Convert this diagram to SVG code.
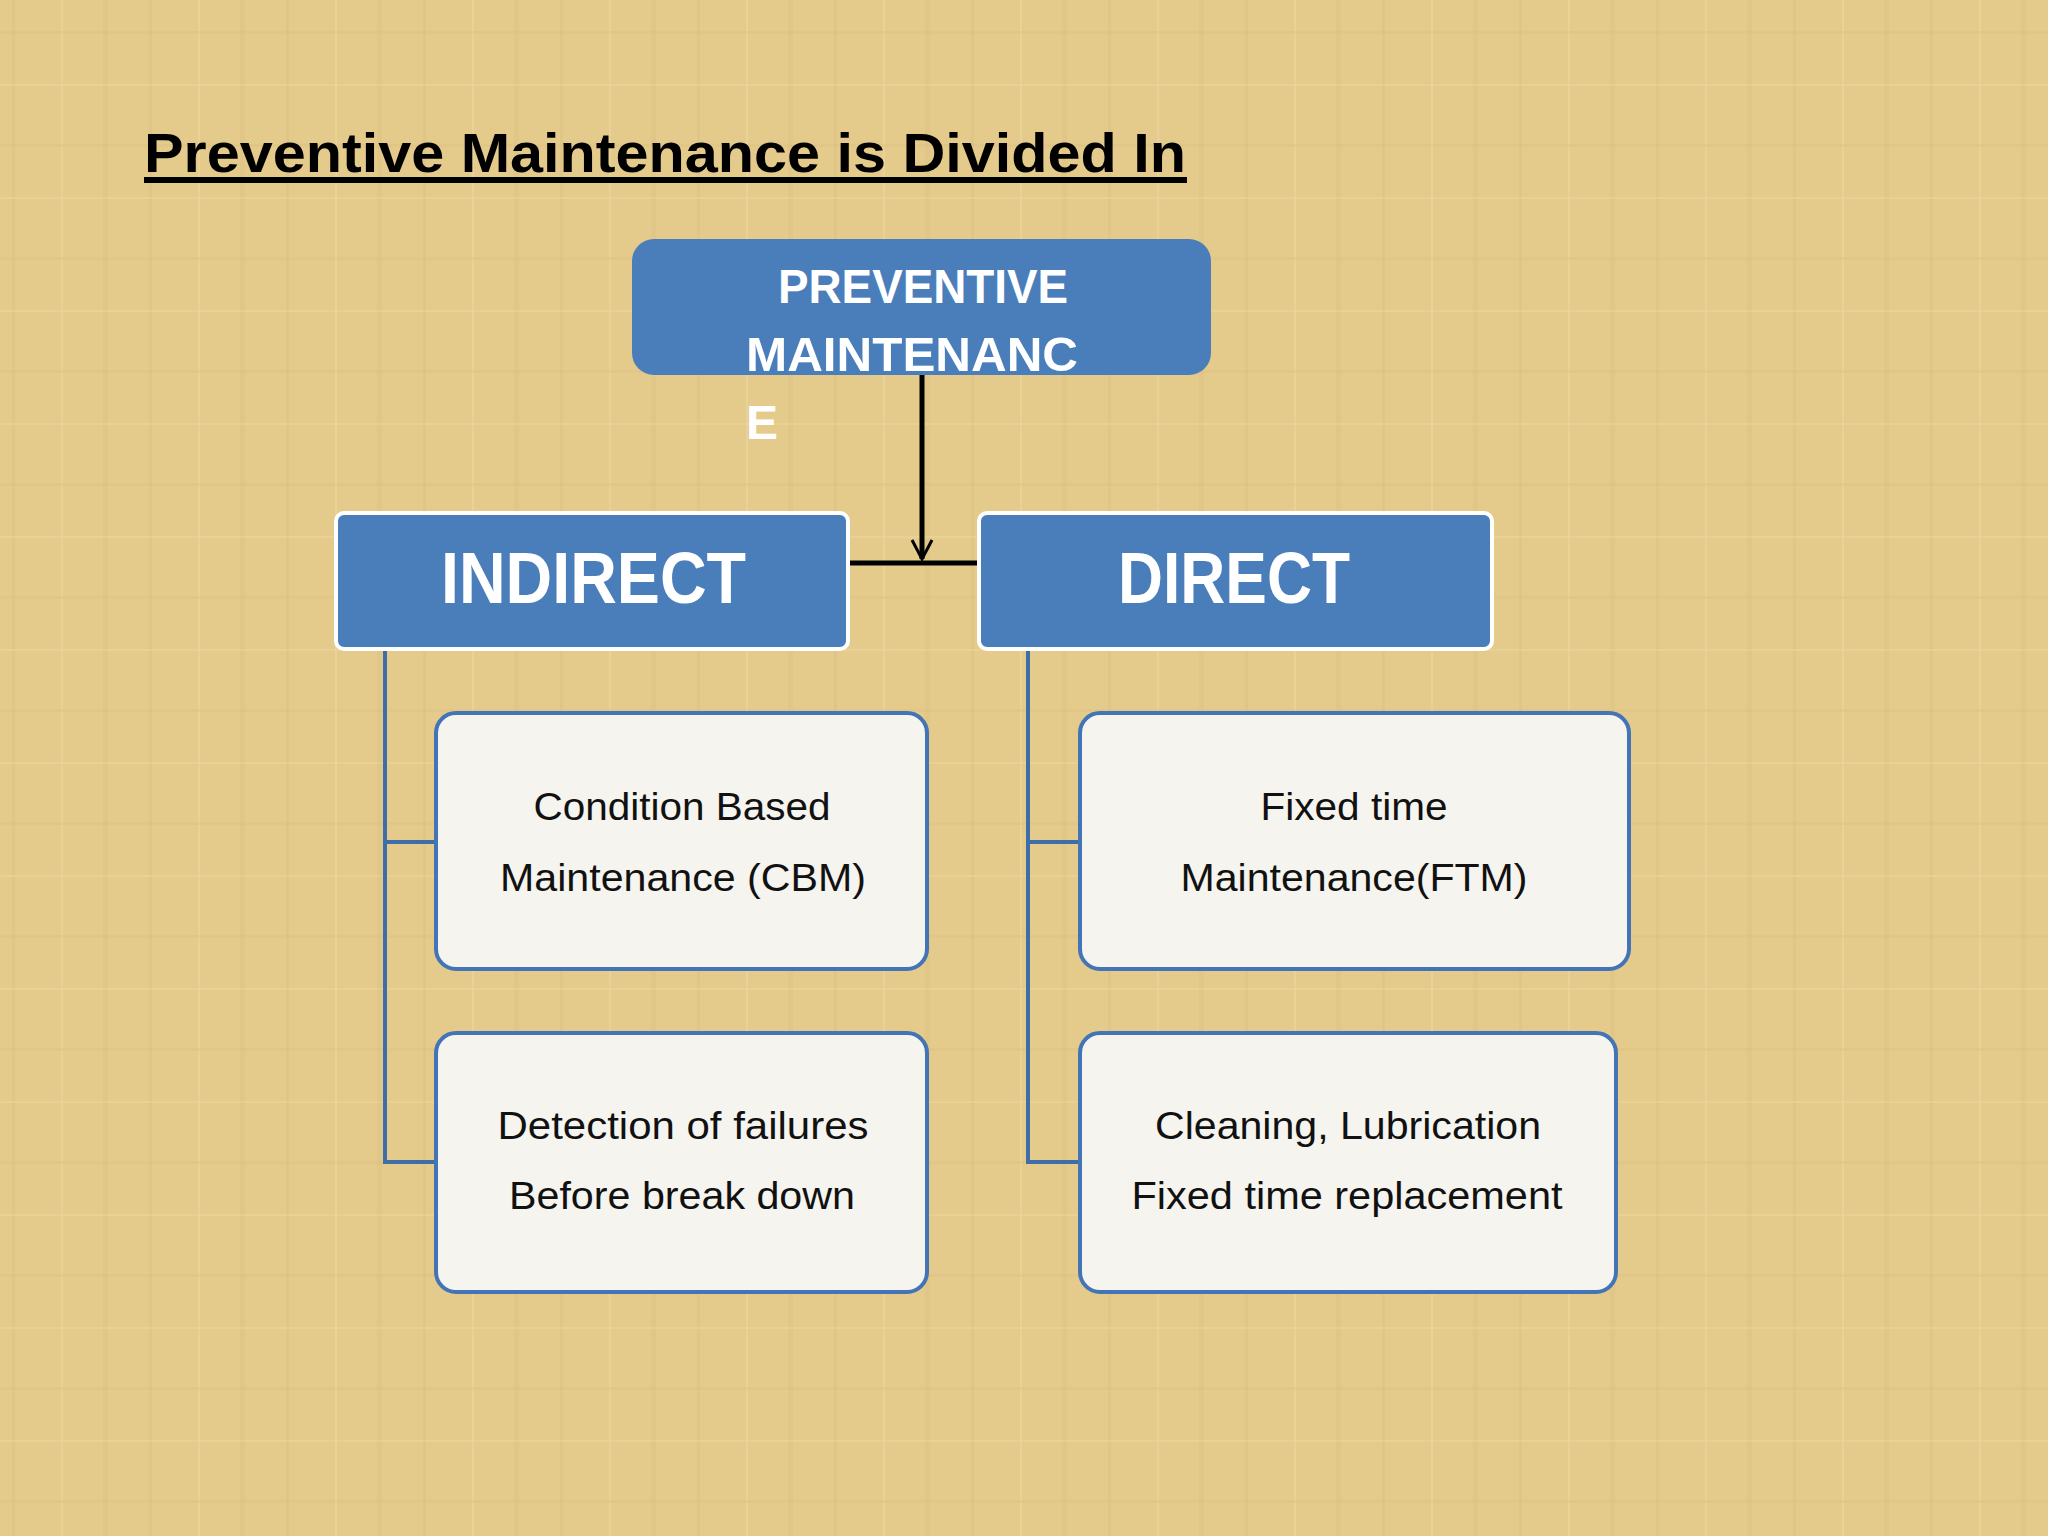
<svg xmlns="http://www.w3.org/2000/svg" width="2048" height="1536" viewBox="0 0 2048 1536">
<defs>
<pattern id="tex" width="137" height="113" patternUnits="userSpaceOnUse">
<rect width="137" height="113" fill="#e4cb8c"/>
<rect x="12" y="0" width="3" height="113" fill="#d9bd7c" opacity="0.35"/>
<rect x="61" y="0" width="2" height="113" fill="#efdba4" opacity="0.45"/>
<rect x="103" y="0" width="5" height="113" fill="#d6ba78" opacity="0.25"/>
<rect x="0" y="31" width="137" height="3" fill="#d8bc7b" opacity="0.3"/>
<rect x="0" y="84" width="137" height="2" fill="#eed9a2" opacity="0.4"/>
</pattern>
<style>
.blue{fill:#4a7ebb;stroke:#ffffff;stroke-width:4}
.top{fill:#4a7ebb}
.child{fill:#f5f4ef;stroke:#4374b6;stroke-width:4}
.hd{font-family:"Liberation Sans",Arial,sans-serif;font-weight:bold;fill:#ffffff}
.ct{font-family:"Liberation Sans",Arial,sans-serif;font-size:38px;fill:#111111;text-anchor:middle}
.bl{stroke:#3e6ea8;stroke-width:4;fill:none}
</style>
</defs>
<rect width="2048" height="1536" fill="url(#tex)"/>
<g id="title">
<text x="144" y="172" font-family="'Liberation Sans',Arial,sans-serif" font-weight="bold" font-size="56" fill="#000" textLength="1042" lengthAdjust="spacingAndGlyphs">Preventive Maintenance is Divided In</text>
<rect x="144" y="177" width="1043" height="6" fill="#000"/>
</g>
<g id="connectors">
<line x1="922" y1="375" x2="922" y2="559" stroke="#000" stroke-width="5"/>
<path d="M912,540 L922,559 L932,540" fill="none" stroke="#000" stroke-width="3"/>
<line x1="850" y1="563" x2="977" y2="563" stroke="#000" stroke-width="5"/>
<path class="bl" d="M385,649 V1162 H436 M385,842 H436"/>
<path class="bl" d="M1028,649 V1162 H1080 M1028,842 H1080"/>
</g>
<g id="preventive">
<rect class="top" x="632" y="239" width="579" height="136" rx="22"/>
<text class="hd" x="778" y="303" font-size="48" textLength="290" lengthAdjust="spacingAndGlyphs">PREVENTIVE</text>
<text class="hd" x="746" y="371" font-size="48" textLength="332" lengthAdjust="spacingAndGlyphs">MAINTENANC</text>
<text class="hd" x="746" y="439" font-size="48">E</text>
</g>
<g id="indirect">
<rect class="blue" x="336" y="513" width="512" height="136" rx="8"/>
<text class="hd" x="441" y="603" font-size="72" textLength="305" lengthAdjust="spacingAndGlyphs">INDIRECT</text>
</g>
<g id="direct">
<rect class="blue" x="979" y="513" width="513" height="136" rx="8"/>
<text class="hd" x="1118" y="603" font-size="72" textLength="232" lengthAdjust="spacingAndGlyphs">DIRECT</text>
</g>
<g id="cbm">
<rect class="child" x="436" y="713" width="491" height="256" rx="20"/>
<text class="ct" x="682" y="820" textLength="297" lengthAdjust="spacingAndGlyphs">Condition Based</text>
<text class="ct" x="683" y="891" textLength="366" lengthAdjust="spacingAndGlyphs">Maintenance (CBM)</text>
</g>
<g id="detection">
<rect class="child" x="436" y="1033" width="491" height="259" rx="20"/>
<text class="ct" x="683" y="1139" textLength="371" lengthAdjust="spacingAndGlyphs">Detection of failures</text>
<text class="ct" x="682" y="1209" textLength="346" lengthAdjust="spacingAndGlyphs">Before break down</text>
</g>
<g id="ftm">
<rect class="child" x="1080" y="713" width="549" height="256" rx="20"/>
<text class="ct" x="1354" y="820" textLength="187" lengthAdjust="spacingAndGlyphs">Fixed time</text>
<text class="ct" x="1354" y="891" textLength="347" lengthAdjust="spacingAndGlyphs">Maintenance(FTM)</text>
</g>
<g id="cleaning">
<rect class="child" x="1080" y="1033" width="536" height="259" rx="20"/>
<text class="ct" x="1348" y="1139" textLength="386" lengthAdjust="spacingAndGlyphs">Cleaning, Lubrication</text>
<text class="ct" x="1347" y="1209" textLength="431" lengthAdjust="spacingAndGlyphs">Fixed time replacement</text>
</g>
</svg>
